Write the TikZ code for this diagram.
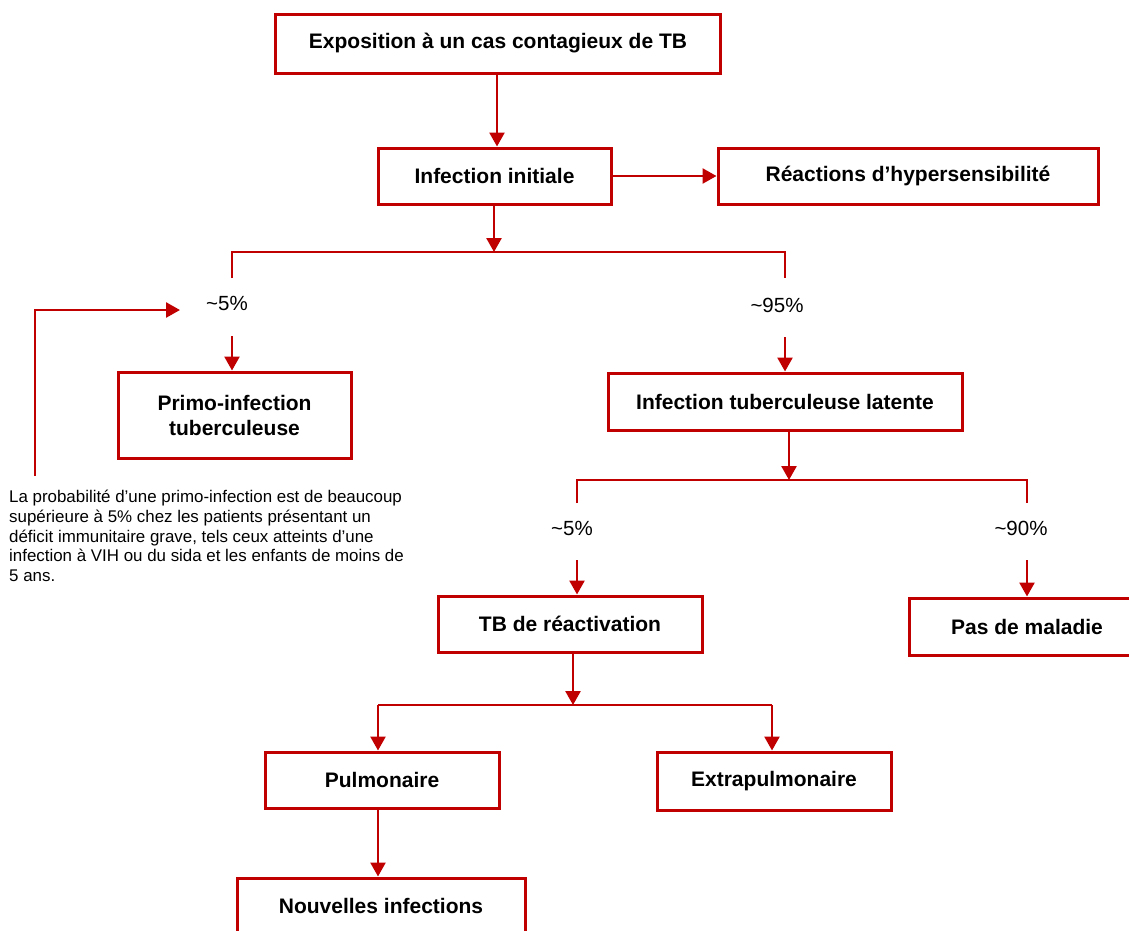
\documentclass[tikz,border=0pt]{standalone}
\usepackage{fontspec}
\setmainfont{Liberation Sans}
\usetikzlibrary{arrows.meta}
\definecolor{tbred}{HTML}{C00000}
\begin{document}
\begin{tikzpicture}[x=1pt,y=-1pt,
  box/.style={draw=tbred,line width=3pt,rectangle,inner sep=0pt,align=center,
    font=\fontsize{21}{25}\selectfont\bfseries},
  lbl/.style={inner sep=0pt,font=\fontsize{20.5}{24}\selectfont},
  ln/.style={draw=tbred,line width=2.6pt},
  arr/.style={ln,-{Triangle[length=14pt,width=15pt]}},
  note/.style={inner sep=0pt,align=left,anchor=north west,
    font=\fontsize{16.9}{19.7}\selectfont}]
\useasboundingbox (0,0) rectangle (1129,930);
% boxes
\node[box,minimum width=445pt,minimum height=59pt] (b1) at (498,43.5) {Exposition à un cas contagieux de TB};
\node[box,minimum width=233pt,minimum height=56pt] (b2) at (494.5,176) {Infection initiale};
\node[box,minimum width=380pt,minimum height=56pt] (b3) at (908,176) {Réactions d’hypersensibilité};
\node[box,minimum width=233pt,minimum height=86pt] (b4) at (234.5,415) {Primo-infection\\tuberculeuse};
\node[box,minimum width=354pt,minimum height=57pt] (b5) at (785,401.5) {Infection tuberculeuse latente};
\node[box,minimum width=264pt,minimum height=56pt] (b6) at (570,624) {TB de réactivation};
\node[box,minimum width=236pt,minimum height=57pt] (b7) at (1027,626.5) {Pas de maladie};
\node[box,minimum width=234pt,minimum height=56pt] (b8) at (382,780) {Pulmonaire};
\node[box,minimum width=234pt,minimum height=58pt] (b9) at (774,781) {Extrapulmonaire};
\node[box,minimum width=288pt,minimum height=56pt] (b10) at (381,906) {Nouvelles infections};
% labels
\node[lbl] (p1) at (227,303) {\textasciitilde5\%};
\node[lbl] (p2) at (777,305) {\textasciitilde95\%};
\node[lbl] (p3) at (572,528) {\textasciitilde5\%};
\node[lbl] (p4) at (1021,528) {\textasciitilde90\%};
% coordinates
\coordinate (j1) at (494,252);
\coordinate (l1) at (232,252);
\coordinate (r1) at (785,252);
\coordinate (l1e) at (232,278);
\coordinate (r1e) at (785,278);
\coordinate (l1s) at (232,336);
\coordinate (r1s) at (785,337);
\coordinate (j2) at (789,480);
\coordinate (l2) at (577,480);
\coordinate (r2) at (1027,480);
\coordinate (l2e) at (577,503);
\coordinate (r2e) at (1027,503);
\coordinate (l2s) at (577,560);
\coordinate (r2s) at (1027,560);
\coordinate (j3) at (573,705);
\coordinate (l3) at (378,705);
\coordinate (r3) at (772,705);
\coordinate (n0) at (35,476);
\coordinate (n1) at (35,310);
\coordinate (n2) at (180,310);
% connectors
\draw[arr] (b1.south -| 497,0) -- (b2.north -| 497,0);
\draw[arr] (b2.east) -- (b3.west);
\draw[arr] (b2.south -| j1) -- (j1);
\draw[ln] (l1e) -- (l1) -- (r1) -- (r1e);
\draw[arr] (l1s) -- (l1s |- b4.north);
\draw[arr] (r1s) -- (r1s |- b5.north);
\draw[arr] (b5.south -| j2) -- (j2);
\draw[ln] (l2e) -- (l2) -- (r2) -- (r2e);
\draw[arr] (l2s) -- (l2s |- b6.north);
\draw[arr] (r2s) -- (r2s |- b7.north);
\draw[arr] (b6.south -| j3) -- (j3);
\draw[ln] (l3) -- (r3);
\draw[arr] (l3) -- (l3 |- b8.north);
\draw[arr] (r3) -- (r3 |- b9.north);
\draw[arr] (b8.south -| l3) -- (l3 |- b10.north);
\draw[arr] (n0) -- (n1) -- (n2);
% note
\node[note] (nt) at (9,490) {La probabilité d’une primo-infection est de beaucoup\\
supérieure à 5\% chez les patients présentant un\\
déficit immunitaire grave, tels ceux atteints d’une\\
infection à VIH ou du sida et les enfants de moins de\\
5 ans.};
\end{tikzpicture}
\end{document}
